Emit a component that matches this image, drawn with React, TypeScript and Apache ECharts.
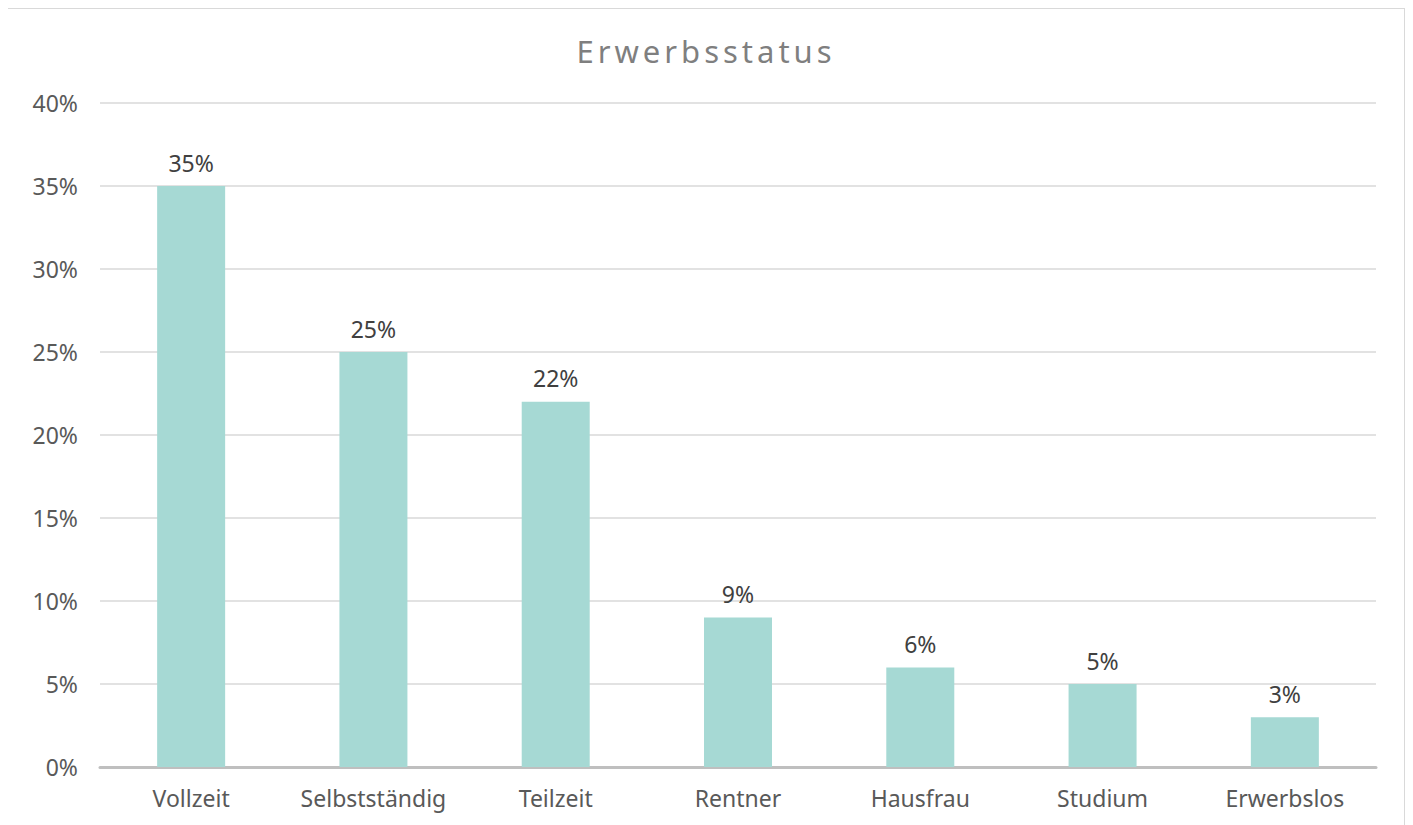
import React, { useEffect, useRef } from "react";
import * as echarts from "echarts";

const categories = ["Vollzeit", "Selbstständig", "Teilzeit", "Rentner", "Hausfrau", "Studium", "Erwerbslos"];
const values = [35, 25, 22, 9, 6, 5, 3];
const titleText = "Erwerbsstatus";

export default function App() {
  const ref = useRef<HTMLDivElement>(null);
  useEffect(() => {
    if (!ref.current) return;
    const chart = echarts.init(ref.current, undefined, { renderer: "svg" });
    const font = "'Noto Sans', sans-serif";
    chart.setOption({
      animation: false,
      title: {
        text: titleText,
        left: "center",
        top: 21,
        textStyle: { fontFamily: font, fontSize: 31, fontWeight: "normal", color: "#7f7f7f" },
      },
      grid: { left: 92, right: 28, top: 94, bottom: 58, containLabel: false },
      xAxis: {
        type: "category",
        data: categories,
        axisLine: { lineStyle: { color: "#bfbfbf", width: 3 } },
        axisTick: { show: false },
        axisLabel: { fontFamily: font, fontSize: 23, color: "#595959", margin: 19, interval: 0 },
      },
      yAxis: {
        type: "value",
        min: 0,
        max: 40,
        interval: 5,
        axisLine: { show: false },
        axisTick: { show: false },
        splitLine: { lineStyle: { color: "#d9d9d9", width: 1.5 } },
        axisLabel: { fontFamily: font, fontSize: 23, color: "#595959", margin: 22, formatter: "{value}%" },
      },
      series: [
        {
          type: "bar",
          data: values,
          barWidth: 68,
          itemStyle: { color: "#a6d9d4" },
          label: {
            show: true,
            position: "top",
            distance: 12,
            formatter: "{c}%",
            fontFamily: font,
            fontSize: 23,
            color: "#404040",
          },
        },
      ],
    });
    return () => chart.dispose();
  }, []);
  return (
    <>
      <style>{`.chartbox svg text[style*="31px"] { letter-spacing: 4px; }`}</style>
      <div
        ref={ref}
        className="chartbox"
        style={{
          width: 1396,
          height: 816,
          border: "2px solid #d9d9d9",
          borderBottom: "none",
          margin: "-1px 0 0 -2px",
          background: "#fff",
        }}
      />
    </>
  );
}
